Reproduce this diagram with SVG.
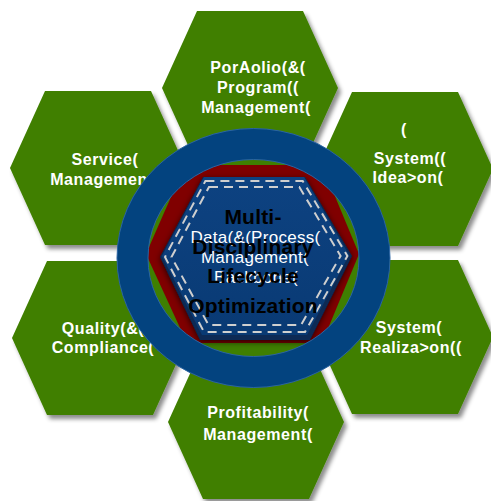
<svg xmlns="http://www.w3.org/2000/svg" xmlns:xlink="http://www.w3.org/1999/xlink" width="491" height="501" viewBox="0 0 491 501">
  <defs>
    <style>
      .hex { fill: #3f7f01; filter: url(#hexShadow); }
      .lbl { font-family: "Liberation Sans", Arial, sans-serif; font-size: 16px; font-weight: bold; fill: #ffffff; text-anchor: middle; letter-spacing: 0.6px; }
      .core { font-family: "Liberation Sans", Arial, sans-serif; font-size: 17px; fill: #ffffff; text-anchor: middle; letter-spacing: 0.3px; }
      .title { font-family: "Liberation Sans", Arial, sans-serif; font-size: 21px; font-weight: bold; fill: #000000; text-anchor: middle; letter-spacing: 0.2px; }
      .dash { fill: none; stroke: #cfcfcf; stroke-width: 2; stroke-dasharray: 9 6; }
    </style>
    <polygon id="hexShape" points="-53,-77 53,-77 88,0 53,77 -53,77 -88,0"/>
    <filter id="hexShadow" x="-15%" y="-15%" width="135%" height="135%">
      <feDropShadow dx="3" dy="4" stdDeviation="2" flood-color="#000000" flood-opacity="0.45"/>
    </filter>
    <filter id="coreShadow" x="-20%" y="-20%" width="140%" height="140%">
      <feDropShadow dx="0" dy="2" stdDeviation="3" flood-color="#000000" flood-opacity="0.7"/>
    </filter>
    <linearGradient id="coreFace" x1="0" y1="0" x2="0" y2="1">
      <stop offset="0" stop-color="#0d4281"/>
      <stop offset="1" stop-color="#093a74"/>
    </linearGradient>
  </defs>

  <rect width="491" height="501" fill="#ffffff"/>

  <!-- outer hexagons -->
  <g id="portfolio">
    <use xlink:href="#hexShape" class="hex" x="250" y="88"/>
    <text class="lbl" x="258" y="73">PorAolio(&amp;(</text>
    <text class="lbl" x="258" y="93">Program((</text>
    <text class="lbl" x="256" y="113">Management(</text>
  </g>
  <g id="service">
    <use xlink:href="#hexShape" class="hex" x="98" y="168"/>
    <text class="lbl" x="105" y="165">Service(</text>
    <text class="lbl" x="105" y="185">Management(</text>
  </g>
  <g id="ideation">
    <use xlink:href="#hexShape" class="hex" x="405" y="169"/>
    <text class="lbl" x="404" y="135">(</text>
    <text class="lbl" x="410" y="164">System((</text>
    <text class="lbl" x="408" y="183">Idea&gt;on(</text>
  </g>
  <g id="quality">
    <use xlink:href="#hexShape" class="hex" x="100" y="338"/>
    <text class="lbl" x="103" y="334">Quality(&amp;(</text>
    <text class="lbl" x="103" y="353">Compliance(</text>
  </g>
  <g id="realization">
    <use xlink:href="#hexShape" class="hex" x="405" y="337"/>
    <text class="lbl" x="409" y="333">System(</text>
    <text class="lbl" x="411" y="353">Realiza&gt;on((</text>
  </g>
  <g id="profitability">
    <use xlink:href="#hexShape" class="hex" x="256" y="422"/>
    <text class="lbl" x="258" y="418">Profitability(</text>
    <text class="lbl" x="258" y="440">Management(</text>
  </g>

  <!-- central hub -->
  <g id="hub">
    <ellipse cx="253.5" cy="258" rx="121" ry="114" fill="#3f7f01"/>
    <polygon points="185,165 322,165 359,254 322,343 187,343 146,254" fill="#800000"/>
    <polygon points="203,177 305,177 352,256 310,340 200,340 160,257" fill="#072a55" filter="url(#coreShadow)"/>
    <polygon points="204,177 304,177 349,255 307,335 202,335 162,256" fill="url(#coreFace)"/>
    <polygon class="dash" points="205.4,181 302.7,181 347.4,256 305,332 204,332 165,257"/>
    <polygon class="dash" points="209,187 299.3,187 340.6,256 301,325 208.5,325 171.5,257"/>
    <text class="core" x="255.5" y="243">Data(&amp;(Process(</text>
    <text class="core" x="255" y="263">Management(</text>
    <text class="core" x="256" y="283">Backbone(</text>
    <text class="title" x="253" y="224">Multi-</text>
    <text class="title" x="253" y="254">Disciplinary</text>
    <text class="title" x="253" y="283">Lifecycle</text>
    <text class="title" x="253" y="313">Optimization</text>
    <!-- blue ring around the hub -->
    <ellipse cx="253.5" cy="258" rx="121" ry="114" fill="none" stroke="#03437f" stroke-width="31"/>
    <ellipse cx="253.5" cy="258" rx="136.5" ry="129.5" fill="none" stroke="#2a64a3" stroke-width="1"/>
    <ellipse cx="253.5" cy="258" rx="105.5" ry="98.5" fill="none" stroke="#2a64a3" stroke-width="1"/>
  </g>
</svg>
